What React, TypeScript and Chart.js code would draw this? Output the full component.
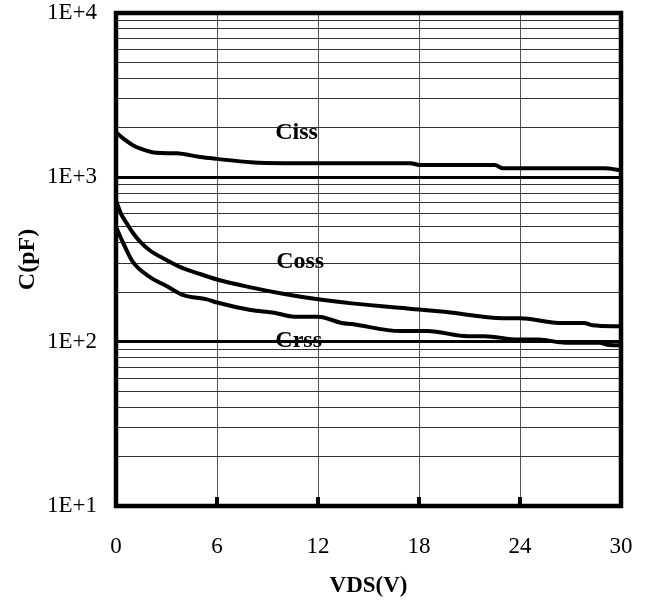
import React, { useEffect, useRef } from 'react';
import { Chart, registerables } from 'chart.js';

Chart.register(...registerables);

// ---- data ----
const cissVds = [0, 0.5, 1.0, 1.5, 2.4, 3.6, 5.0, 6.0, 8.0, 10.0, 14.0, 17.5, 18.0, 22.5, 23.0, 29.0, 30];
const cissPf = [1880, 1700, 1570, 1490, 1410, 1400, 1330, 1295, 1235, 1220, 1220, 1220, 1190, 1188, 1135, 1134, 1105];

const cossVds = [0, 0.3, 0.64, 1.0, 1.43, 2.0, 3.0, 4.0, 5.0, 6.0, 8.0, 10.0, 12.0, 14.0, 18.0, 19.5, 23.0, 24.0, 26.3, 27.8, 28.3, 30];
const cossPf = [720, 600, 525, 460, 406, 360, 314, 279, 258, 239, 214, 195, 181, 171, 157, 152, 139, 139, 130, 130, 126, 124];

const crssVds = [0, 0.44, 1.0, 2.0, 3.0, 4.0, 5.4, 6.0, 8.0, 9.4, 10.6, 12.0, 13.4, 14.0, 16.9, 18.5, 20.9, 21.9, 23.9, 25.1, 26.7, 28.7, 29.3, 30];
const crssPf = [500, 396, 306, 248, 218, 192, 181, 173, 156, 150, 142, 142, 130, 128, 116, 116, 108, 108, 103, 103, 98.5, 98.5, 95.3, 95];

const xTickValues = [0, 6, 12, 18, 24, 30];
const yDecades = [10, 100, 1000, 10000];
const yDecadeLabels = ['1E+1', '1E+2', '1E+3', '1E+4'];
const yMinorMultipliers = [1, 2, 3, 4, 5, 6, 7, 8, 9];

const seriesNames = ['Ciss', 'Coss', 'Crss'];
const nameX = [10.73, 10.94, 10.85];
const nameY = [1860, 305, 101];

const xTitle = 'VDS(V)';
const yTitle = 'C(pF)';

const FONT = '"Liberation Serif", "Times New Roman", serif';

const yGridValues: number[] = [];
yDecades.slice(0, -1).forEach((d) => yMinorMultipliers.forEach((m) => yGridValues.push(m * d)));
yGridValues.push(yDecades[yDecades.length - 1]);

const isDecade = (v: number) => Math.abs(Math.log10(v) - Math.round(Math.log10(v))) < 1e-9;

const framePlugin = {
  id: 'frameAndLabels',
  afterDatasetsDraw(chart: any) {
    const { ctx, chartArea: a, scales } = chart;
    ctx.save();
    ctx.strokeStyle = '#000';
    ctx.lineCap = 'butt';
    // small tick marks inside bottom edge
    ctx.lineWidth = 4;
    xTickValues.slice(1, -1).forEach((v) => {
      const px = scales.x.getPixelForValue(v);
      ctx.beginPath();
      ctx.moveTo(px, a.bottom);
      ctx.lineTo(px, a.bottom - 9);
      ctx.stroke();
    });
    // frame
    ctx.lineWidth = 4.5;
    ctx.strokeRect(a.left, a.top, a.right - a.left, a.bottom - a.top);
    // series labels
    ctx.font = `bold 24px ${FONT}`;
    ctx.fillStyle = '#000';
    ctx.textAlign = 'center';
    ctx.textBaseline = 'middle';
    seriesNames.forEach((n, i) => {
      ctx.fillText(n, scales.x.getPixelForValue(nameX[i]), scales.y.getPixelForValue(nameY[i]));
    });
    ctx.restore();
  },
};

const makeSeries = (xs: number[], ys: number[]) => xs.map((x, i) => ({ x, y: ys[i] }));

export default function App() {
  const ref = useRef<HTMLCanvasElement | null>(null);

  useEffect(() => {
    if (!ref.current) return;
    const lineStyle = {
      borderColor: '#000',
      borderWidth: 4,
      pointRadius: 0,
      fill: false,
      cubicInterpolationMode: 'monotone' as const,
    };
    const chart = new Chart(ref.current, {
      type: 'line',
      data: {
        datasets: [
          { label: seriesNames[0], data: makeSeries(cissVds, cissPf), ...lineStyle },
          { label: seriesNames[1], data: makeSeries(cossVds, cossPf), ...lineStyle },
          { label: seriesNames[2], data: makeSeries(crssVds, crssPf), ...lineStyle },
        ],
      },
      options: {
        animation: false,
        responsive: false,
        devicePixelRatio: 1,
        layout: { padding: { top: 13, right: 32, left: 0, bottom: 0 } },
        plugins: { legend: { display: false }, tooltip: { enabled: false } },
        scales: {
          x: {
            type: 'linear',
            min: 0,
            max: 30,
            afterBuildTicks: (s: any) => {
              s.ticks = xTickValues.map((v) => ({ value: v }));
            },
            afterFit: (s: any) => {
              s.height = 105;
              s.paddingLeft = 0;
              s.paddingRight = 0;
            },
            border: { display: false },
            grid: {
              drawTicks: false,
              lineWidth: 1,
              color: (c: any) =>
                c.tick && (c.tick.value === 0 || c.tick.value === 30) ? 'rgba(0,0,0,0)' : '#555',
            },
            ticks: {
              autoSkip: false,
              maxRotation: 0,
              padding: 27,
              color: '#000',
              font: { family: FONT, size: 23 },
            },
            title: {
              display: true,
              text: xTitle,
              color: '#000',
              font: { family: FONT, size: 23, weight: 'bold' },
              padding: { top: 0, bottom: 11 },
            },
          },
          y: {
            type: 'logarithmic',
            min: 10,
            max: 10000,
            afterBuildTicks: (s: any) => {
              s.ticks = yGridValues.map((v) => ({ value: v }));
            },
            afterFit: (s: any) => {
              s.width = 116;
              s.paddingTop = 0;
              s.paddingBottom = 0;
            },
            border: { display: false },
            grid: {
              drawTicks: false,
              lineWidth: (c: any) => {
                const v = c.tick ? c.tick.value : 0;
                return v === 100 || v === 1000 ? 3 : 1;
              },
              color: (c: any) => {
                const v = c.tick ? c.tick.value : 0;
                if (v === 10 || v === 10000) return 'rgba(0,0,0,0)';
                return v === 100 || v === 1000 ? '#000' : '#333';
              },
            },
            ticks: {
              autoSkip: false,
              padding: 19,
              color: '#000',
              font: { family: FONT, size: 23, lineHeight: 1 },
              callback: (value: any) => {
                const v = Number(value);
                if (!isDecade(v)) return '';
                const idx = yDecades.indexOf(Math.round(v));
                return idx >= 0 ? yDecadeLabels[idx] : '';
              },
            },
            title: {
              display: true,
              text: yTitle,
              color: '#000',
              font: { family: FONT, size: 24, weight: 'bold' },
              padding: { top: 13, bottom: 0 },
            },
          },
        },
      },
      plugins: [framePlugin],
    });
    return () => chart.destroy();
  }, []);

  return (
    <div style={{ position: 'absolute', left: 0, top: 0, width: 653, height: 611, background: '#fff' }}>
      <canvas ref={ref} width={653} height={611} style={{ display: 'block' }} />
    </div>
  );
}
